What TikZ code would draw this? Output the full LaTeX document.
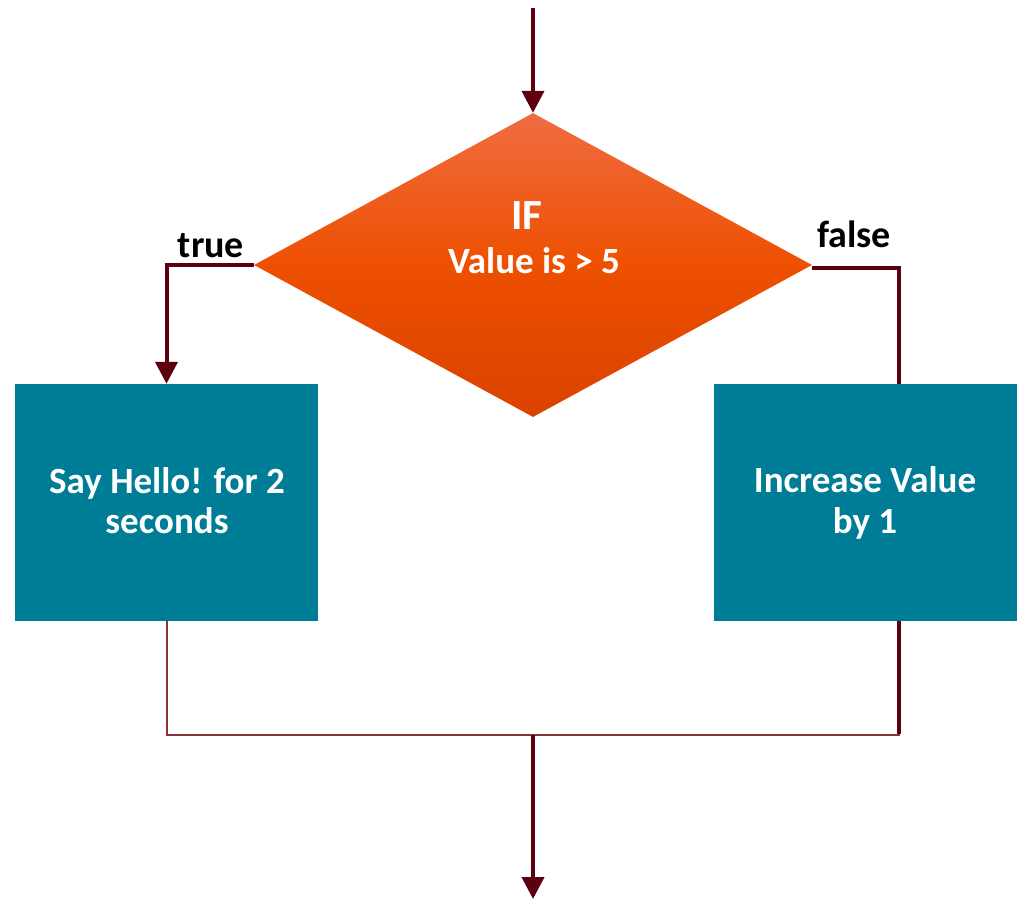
\documentclass[tikz,border=0pt]{standalone}
\usepackage{fontspec}
\setmainfont{Carlito}
\usetikzlibrary{shapes.geometric,arrows.meta}
\definecolor{teal1}{RGB}{0,125,150}
\definecolor{line1}{RGB}{92,0,16}
\definecolor{line2}{RGB}{140,50,60}
\definecolor{otop}{RGB}{239,108,66}
\definecolor{omid}{RGB}{238,80,0}
\definecolor{obot}{RGB}{218,66,0}
\tikzset{
  decision/.style={diamond,inner sep=0pt,minimum width=558pt,minimum height=304pt,
    top color=otop,bottom color=obot,middle color=omid,draw=none},
  procbox/.style={rectangle,inner sep=0pt,minimum width=303pt,minimum height=237pt,fill=teal1,draw=none},
  wtext/.style={text=white,inner sep=0pt,anchor=base},
  boxfont/.style={font=\bfseries\fontsize{37}{40}\selectfont},
  btext/.style={text=black,font=\bfseries\fontsize{38}{44}\selectfont,inner sep=0pt,anchor=base},
  thick1/.style={draw=line1,line width=4pt},
  thin1/.style={draw=line2,line width=2pt},
  arr/.style={-{Triangle[width=22pt,length=22pt]}}
}
\begin{document}
\begin{tikzpicture}[x=1pt,y=-1pt]
\useasboundingbox (0,0) rectangle (1018,900);
\node[decision] (dia) at (533,265) {};
\node[procbox] (lbox) at (166.5,502.5) {};
\node[procbox] (rbox) at (865.5,502.5) {};
\node[wtext,font=\bfseries\fontsize{43}{48}\selectfont] (iftext) at (527,229) {IF};
\node[wtext,font=\bfseries\fontsize{37}{44}\selectfont] (valtext) at (534,273) {Value is > 5};
\node[wtext,boxfont] (l1) at (167,493) {Say Hello! for 2};
\node[wtext,boxfont] (l2) at (167,533) {seconds};
\node[wtext,boxfont] (r1) at (865,492) {Increase Value};
\node[wtext,boxfont] (r2) at (865,533) {by 1};
\node[btext] (tlab) at (211,257) {true};
\node[btext] (flab) at (854,247) {false};
\coordinate (start) at (533,8);
\coordinate (ftop) at (899,384);
\coordinate (fbot) at (899,621);
\coordinate (join) at (533,735);
\coordinate (finish) at (533,899);
\draw[thick1,arr] (start) -- (dia.north);
\draw[thick1,arr,line join=miter] (dia.west) -| (lbox.north);
\draw[thick1,line join=miter] ([yshift=-3pt]dia.east) -- ([yshift=-3pt]dia.east -| ftop) -- (ftop);
\draw[thin1] (lbox.south) |- (join);
\draw[thin1] (join) -| (fbot);
\draw[thick1] (fbot) -- ([yshift=1pt]fbot |- join);
\draw[thick1,arr] (join) -- (finish);
\end{tikzpicture}
\end{document}
